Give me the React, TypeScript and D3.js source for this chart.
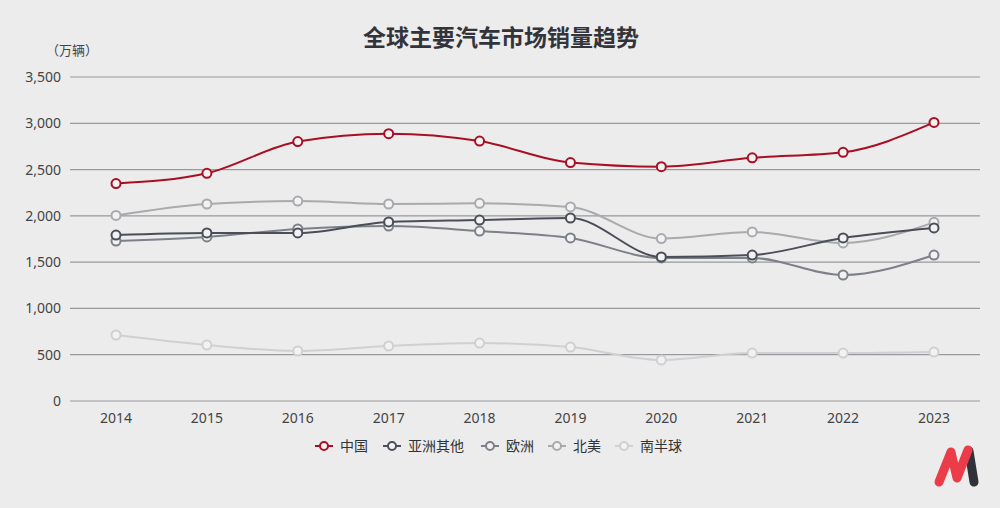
import React from "react";
import * as d3 from "d3";

const years = ["2014","2015","2016","2017","2018","2019","2020","2021","2022","2023"];
const china = [2349, 2460, 2803, 2888, 2808, 2576, 2531, 2627, 2686, 3009];
const restAsia = [1793, 1815, 1815, 1934, 1955, 1977, 1556, 1577, 1761, 1869];
const europe = [1728, 1772, 1858, 1890, 1836, 1761, 1545, 1545, 1361, 1577];
const northAmerica = [2005, 2128, 2160, 2128, 2135, 2096, 1755, 1826, 1707, 1930];
const southHemisphere = [713, 605, 540, 594, 626, 583, 443, 518, 518, 529];
const yTicks = [0, 500, 1000, 1500, 2000, 2500, 3000, 3500];

const seriesNames = ["中国", "亚洲其他", "欧洲", "北美", "南半球"];
const seriesData = [china, restAsia, europe, northAmerica, southHemisphere];
const seriesColors = ["#a80f24", "#4b4e58", "#7e8089", "#a9aaae", "#cfd0d2"];

const W = 1000, H = 508;

export default function App() {
  const x = d3.scalePoint<string>().domain(years).range([116, 934]);
  const y = d3.scaleLinear().domain([0, 3500]).range([401, 77]);
  const line = d3.line<number>()
    .x((_, i) => x(years[i]) as number)
    .y((d) => y(d))
    .curve(d3.curveMonotoneX);
  const fmt = d3.format(",");
  const font = "'Noto Sans CJK SC', 'Noto Sans', sans-serif";
  const numFont = "'Noto Sans', 'Noto Sans CJK SC', sans-serif";
  const legendX = [315, 383, 481, 548, 615];
  const order = [4, 3, 2, 1, 0];

  return (
    <svg width={W} height={H} style={{ position: "absolute", left: 0, top: 0, background: "#ececec" }} fontFamily={font}>
      <rect x={0} y={0} width={W} height={H} fill="#ececec" />
      <text x={501} y={46} textAnchor="middle" fontSize={23} fontWeight={700} fill="#33343a">全球主要汽车市场销量趋势</text>
      <text x={46} y={55} fontSize={13} fill="#444">（万辆）</text>
      {yTicks.map((t) => (
        <g key={t}>
          <line x1={70} x2={980} y1={y(t)} y2={y(t)} stroke="#9a9a9e" strokeWidth={1.2} />
          <text x={61} y={y(t) + 5} textAnchor="end" fontSize={14} fill="#444" fontFamily={numFont}>{fmt(t)}</text>
        </g>
      ))}
      {years.map((yr) => (
        <text key={yr} x={x(yr)} y={423} textAnchor="middle" fontSize={14} fill="#444" fontFamily={numFont}>{yr}</text>
      ))}
      {order.map((si) => (
        <g key={si}>
          <path d={line(seriesData[si]) || ""} fill="none" stroke={seriesColors[si]} strokeWidth={2} />
          {seriesData[si].map((v, i) => (
            <circle key={i} cx={x(years[i])} cy={y(v)} r={4.5} fill="#f2f2f2" stroke={seriesColors[si]} strokeWidth={2} />
          ))}
        </g>
      ))}
      {seriesNames.map((n, i) => (
        <g key={n}>
          <line x1={legendX[i]} x2={legendX[i] + 18} y1={446} y2={446} stroke={seriesColors[i]} strokeWidth={2} />
          <circle cx={legendX[i] + 9} cy={446} r={4} fill="#f2f2f2" stroke={seriesColors[i]} strokeWidth={2} />
          <text x={legendX[i] + 25} y={451} fontSize={14} fill="#333">{n}</text>
        </g>
      ))}
      <g strokeLinecap="round" strokeLinejoin="round" fill="none">
        <path d="M969,451 L974,482" stroke="#30323a" strokeWidth={9} />
        <path d="M939,482 L951,452 L957,478 L968,450" stroke="#ec3c4a" strokeWidth={9} />
      </g>
    </svg>
  );
}
